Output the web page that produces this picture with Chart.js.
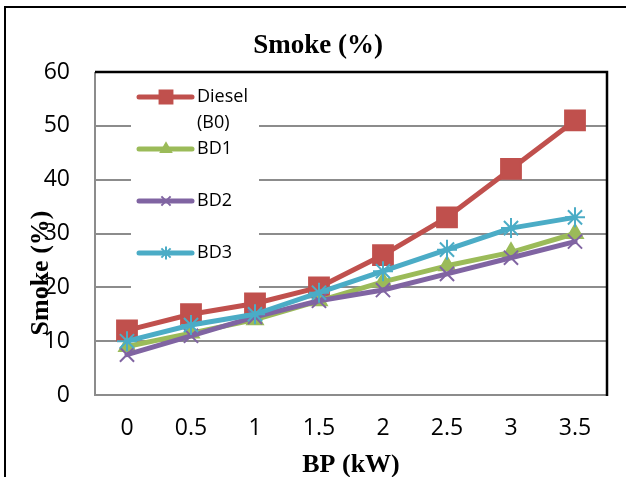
<!DOCTYPE html>
<html>
<head>
<meta charset="utf-8">
<script src="https://cdn.jsdelivr.net/npm/chart.js"></script>
<style>
  html, body { margin: 0; padding: 0; background: #fff; }
  #wrap { width: 626px; height: 477px; }
</style>
</head>
<body>
<div id="wrap"><canvas id="chart" width="626" height="477"></canvas></div>
<script>
// データ
const categories = ['0', '0.5', '1', '1.5', '2', '2.5', '3', '3.5'];
const dieselB0 = [12, 15, 17, 20, 26, 33, 42, 51];
const bd1 = [9, 11.5, 14, 17.5, 21, 24, 26.5, 30];
const bd2 = [7.5, 11, 14.5, 17.5, 19.5, 22.5, 25.5, 28.5];
const bd3 = [10, 13, 15, 19, 23, 27, 31, 33];
const yMin = 0, yMax = 60, yStep = 10;

const chartTitle = 'Smoke (%)';
const yTitle = 'Smoke (%)';
const xTitle = 'BP (kW)';
const legendLabels = [['Diesel', '(B0)'], ['BD1'], ['BD2'], ['BD3']];

const RED = '#C0504D', GREEN = '#9BBB59', PURPLE = '#8064A2', CYAN = '#4BACC6';

function series(label, data, color, style, radius, order) {
  return {
    label: label,
    data: data,
    borderColor: color,
    backgroundColor: color,
    borderWidth: 5,
    pointStyle: style,
    pointRadius: radius,
    pointBorderWidth: 2,
    pointBorderColor: color,
    pointBackgroundColor: color,
    borderJoinStyle: 'round',
    borderCapStyle: 'round',
    tension: 0,
    order: order
  };
}

const datasets = [
  series('Diesel (B0)', dieselB0, RED, 'rect', 14, 3),
  series('BD1', bd1, GREEN, 'triangle', 9, 2),
  series('BD2', bd2, PURPLE, 'crossRot', 10, 1),
  series('BD3', bd3, CYAN, 'star', 10, 0)
];

// 枠線・タイトル・凡例を描くプラグイン
const decor = {
  id: 'decor',
  beforeDatasetsDraw(chart) {
    const ctx = chart.ctx;
    // 凡例の白い背景 (グリッド線を隠す)
    ctx.save();
    ctx.fillStyle = '#fff';
    ctx.fillRect(131, 84, 128, 208);
    ctx.restore();
  },
  afterDraw(chart) {
    const ctx = chart.ctx;
    const a = chart.chartArea;
    ctx.save();
    // 外枠
    ctx.strokeStyle = '#000';
    ctx.lineWidth = 2;
    ctx.beginPath();
    ctx.moveTo(5, 477);
    ctx.lineTo(5, 7);
    ctx.lineTo(626, 7);
    ctx.stroke();
    // プロットエリアの枠
    ctx.strokeStyle = '#8c8c8c';
    ctx.lineWidth = 2;
    ctx.beginPath();
    ctx.moveTo(a.left, a.top);
    ctx.lineTo(a.left, a.bottom);
    ctx.lineTo(a.right, a.bottom);
    ctx.stroke();
    ctx.strokeStyle = '#000';
    ctx.lineWidth = 2.5;
    ctx.beginPath();
    ctx.moveTo(a.left, a.top);
    ctx.lineTo(a.right, a.top);
    ctx.lineTo(a.right, a.bottom + 1);
    ctx.stroke();

    // タイトル
    ctx.fillStyle = '#000';
    ctx.font = 'bold 27px "Liberation Serif", "DejaVu Serif", serif';
    ctx.textAlign = 'center';
    ctx.textBaseline = 'alphabetic';
    ctx.fillText(chartTitle, 318, 53);
    ctx.font = 'bold 26px "Liberation Serif", "DejaVu Serif", serif';
    ctx.fillText(xTitle, (a.left + a.right) / 2, 472);
    ctx.save();
    ctx.translate(48, 273);
    ctx.rotate(-Math.PI / 2);
    ctx.fillText(yTitle, 0, 0);
    ctx.restore();

    // 凡例
    const rows = [97, 149, 201, 253];
    ctx.font = '18px "Open Sans", sans-serif';
    ctx.textAlign = 'left';
    ctx.textBaseline = 'middle';
    datasets.forEach((ds, i) => {
      const y = rows[i];
      ctx.strokeStyle = ds.borderColor;
      ctx.lineWidth = 5;
      ctx.lineCap = 'round';
      ctx.beginPath();
      ctx.moveTo(139, y);
      ctx.lineTo(192, y);
      ctx.stroke();
      ctx.fillStyle = ds.borderColor;
      ctx.lineWidth = 2;
      ctx.lineCap = 'butt';
      Chart.helpers.drawPoint(ctx, {
        pointStyle: ds.pointStyle,
        radius: ds.pointRadius * 0.65,
        borderWidth: 2,
        rotation: 0
      }, 166, y);
      ctx.fillStyle = '#000';
      legendLabels[i].forEach((t, k) => ctx.fillText(t, 197, y + k * 26));
    });
    ctx.restore();
  }
};

new Chart(document.getElementById('chart'), {
  type: 'line',
  data: { labels: categories, datasets: datasets },
  options: {
    responsive: false,
    animation: false,
    layout: { padding: { left: 0, top: 72, right: 19, bottom: 0 } },
    plugins: {
      legend: { display: false },
      title: { display: false },
      tooltip: { enabled: false }
    },
    scales: {
      x: {
        offset: true,
        grid: { display: false, drawTicks: false },
        border: { display: false },
        ticks: {
          color: '#000',
          padding: 20,
          maxRotation: 0,
          font: { family: '"Open Sans", sans-serif', size: 23 }
        },
        afterFit(scale) { scale.height = 82; }
      },
      y: {
        min: yMin,
        max: yMax,
        grid: { color: '#8c8c8c', lineWidth: 2, drawTicks: false },
        border: { display: false },
        ticks: {
          stepSize: yStep,
          color: '#000',
          padding: 25,
          font: { family: '"Open Sans", sans-serif', size: 23 }
        },
        afterFit(scale) { scale.width = 95; }
      }
    }
  },
  plugins: [decor]
});
</script>
</body>
</html>
